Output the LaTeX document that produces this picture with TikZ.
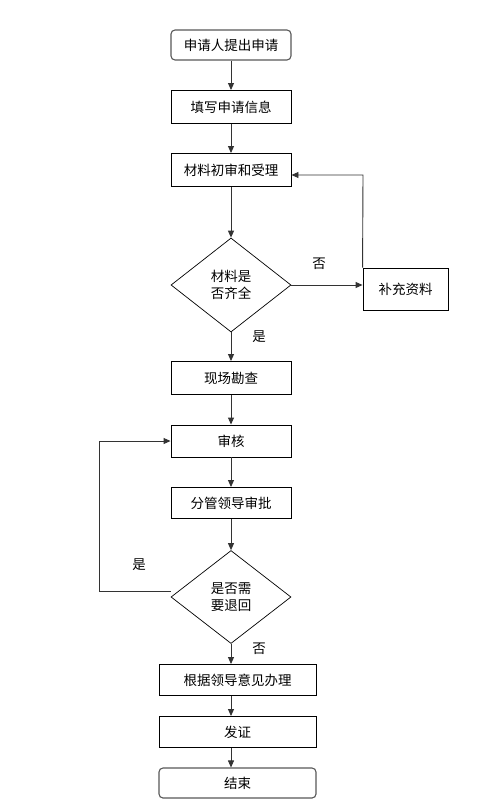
\documentclass[tikz,border=0pt]{standalone}
\usepackage{fontspec}
\newfontfamily\cjk{Noto Sans CJK SC}
\usetikzlibrary{shapes.geometric,arrows.meta}
\definecolor{linec}{HTML}{333333}
\begin{document}
\begin{tikzpicture}[x=1pt,y=-1pt,
  txt/.style={font=\cjk\fontsize{13.5}{17}\selectfont},
  box/.style={txt,draw=black,line width=0.9pt,minimum width=120pt,minimum height=32pt,inner sep=0pt},
  wbox/.style={box,minimum width=157pt,minimum height=31pt},
  term/.style={box,rounded corners=4pt,draw=black!65,line width=1.1pt,minimum height=30pt},
  dec/.style={txt,diamond,draw=black,line width=0.7pt,minimum width=120pt,minimum height=94pt,inner sep=0pt,align=center},
  arr/.style={draw=linec,line width=0.9pt,-{Triangle[length=7pt,width=6pt]}},
  lbl/.style={txt}]
\useasboundingbox (0,0) rectangle (499,810);
\fill[white] (0,0) rectangle (499,810);

\node[term] (n1) at (231,45) {申请人提出申请};
\node[box,minimum height=33pt] (n2) at (231,107) {填写申请信息};
\node[box,minimum height=33pt] (n3) at (231,170) {材料初审和受理};
\node[dec] (d1) at (231,285) {材料是\\否齐全};
\node[box,minimum width=85pt,minimum height=42pt] (b1) at (405.5,289) {补充资料};
\node[box,minimum height=33pt] (n4) at (231,378) {现场勘查};
\node[box,minimum height=32pt] (n5) at (231,441) {审核};
\node[box,minimum height=31pt] (n6) at (231,503) {分管领导审批};
\node[dec,minimum height=93pt] (d2) at (231,597) {是否需\\要退回};
\node[wbox] (n7) at (237.5,680) {根据领导意见办理};
\node[wbox] (n8) at (237.5,732) {发证};
\node[term,minimum width=157pt] (n9) at (237.5,783) {结束};

\coordinate (c1) at (363,175);
\coordinate (c2) at (99,591);

\draw[arr] (n1) -- (n2);
\draw[arr] (n2) -- (n3);
\draw[arr] (n3) -- (d1);
\draw[arr] (d1.east) -- (d1.east -| b1.west);
\draw[arr] (b1.north west) -- (c1) -- (c1 -| n3.east);
\draw[arr] (d1) -- (n4);
\draw[arr] (n4) -- (n5);
\draw[arr] (n5) -- (n6);
\draw[arr] (n6) -- (d2);
\draw[arr] (c2 -| d2.west) -- (c2) -- (c2 |- n5.west) -- (n5.west);
\draw[arr] (d2.south) -- (d2.south |- n7.north);
\draw[arr] (d2.south |- n7.south) -- (d2.south |- n8.north);
\draw[arr] (d2.south |- n8.south) -- (d2.south |- n9.north);

\node[lbl] (l1) at (319,264) {否};
\node[lbl] (l2) at (259,337) {是};
\node[lbl] (l3) at (139,565) {是};
\node[lbl] (l4) at (259,649) {否};
\end{tikzpicture}
\end{document}
